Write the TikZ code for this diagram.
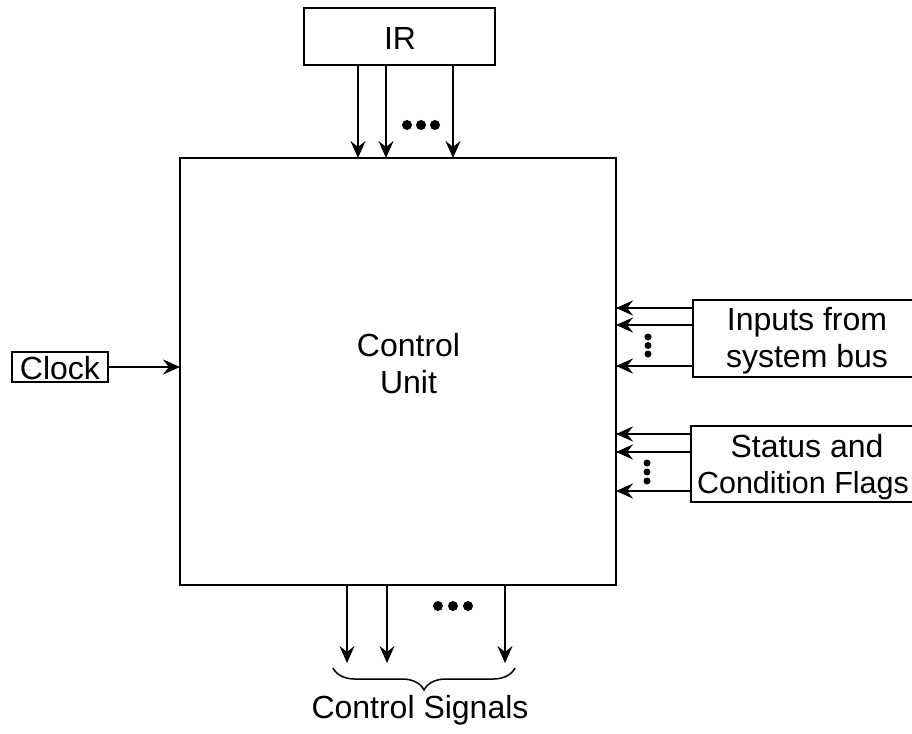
\documentclass[tikz,border=0pt]{standalone}
\usepackage{fontspec}
\setmainfont{Liberation Sans}
\usetikzlibrary{arrows.meta,decorations.pathreplacing}
\begin{document}
\begin{tikzpicture}[x=1pt,y=-1pt,
  box/.style={draw, line width=2pt, outer sep=0pt, inner sep=0pt},
  arr/.style={line width=2.8pt, -{Stealth[length=17pt,width=15pt,inset=6pt]}},
  lbl/.style={anchor=base, inner sep=0pt, font=\fontsize{32}{37}\selectfont},
  dot/.style={fill, circle, inner sep=0pt, minimum size=#1}]
\useasboundingbox (0,0) rectangle (912,733);
% main box
\node[box, minimum width=436pt, minimum height=427pt] (cu) at (398,371.5) {};
\node[lbl] (cut1) at (408.5,356) {Control};
\node[lbl] (cut2) at (408.5,393) {Unit};
% IR
\node[box, minimum width=191pt, minimum height=57pt] (ir) at (399.5,36.5) {};
\node[lbl] (irt) at (400,50) {IR};
\coordinate (t1) at (358,0);
\coordinate (t2) at (386,0);
\coordinate (t3) at (453,0);
\foreach \c in {t1,t2,t3} \draw[arr] (ir.south -| \c) -- (cu.north -| \c);
\node[dot=10pt] (d1) at (407,125) {};
\node[dot=10pt] (d2) at (421,125) {};
\node[dot=10pt] (d3) at (435,125) {};
% Clock
\node[box, minimum width=96pt, minimum height=30pt] (clk) at (60,367) {};
\node[lbl] (clkt) at (60,379) {Clock};
\draw[arr] (clk.east) -- (cu.west |- clk.east);
% Inputs from system bus
\node[box, minimum width=228pt, minimum height=77pt] (inp) at (807,338.5) {};
\node[lbl] (inpt1) at (807,330) {Inputs from};
\node[lbl] (inpt2) at (807,367) {system bus};
\coordinate (r1) at (0,308);
\coordinate (r2) at (0,325);
\coordinate (r3) at (0,366);
\foreach \c in {r1,r2,r3} \draw[arr] (inp.west |- \c) -- (cu.east |- \c);
\node[dot=7pt] (e1) at (648,337) {};
\node[dot=7pt] (e2) at (648,345.5) {};
\node[dot=7pt] (e3) at (648,354) {};
% Status and condition flags
\node[box, minimum width=230pt, minimum height=76pt] (st) at (806,464) {};
\node[lbl] (stt1) at (807,457) {Status and};
\node[lbl, font=\fontsize{30.5}{37}\selectfont] (stt2) at (803,493) {Condition Flags};
\coordinate (s1) at (0,434);
\coordinate (s2) at (0,452);
\coordinate (s3) at (0,491);
\foreach \c in {s1,s2,s3} \draw[arr] (st.west |- \c) -- (cu.east |- \c);
\node[dot=7pt] (f1) at (647,463) {};
\node[dot=7pt] (f2) at (647,472) {};
\node[dot=7pt] (f3) at (647,481) {};
% Control signals
\coordinate (b1) at (347,663);
\coordinate (b2) at (387,663);
\coordinate (b3) at (505,663);
\foreach \c in {b1,b2,b3} \draw[arr] (cu.south -| \c) -- (\c);
\node[dot=10pt] (g1) at (438,606) {};
\node[dot=10pt] (g2) at (453,606) {};
\node[dot=10pt] (g3) at (468,606) {};
\coordinate (brl) at (333,668);
\coordinate (brr) at (515,668);
\draw[line width=1.5pt, decorate, decoration={brace, mirror, amplitude=22pt, aspect=0.5}] (brl) -- (brr);
\node[lbl] (cst) at (420,718) {Control Signals};
\end{tikzpicture}
\end{document}
